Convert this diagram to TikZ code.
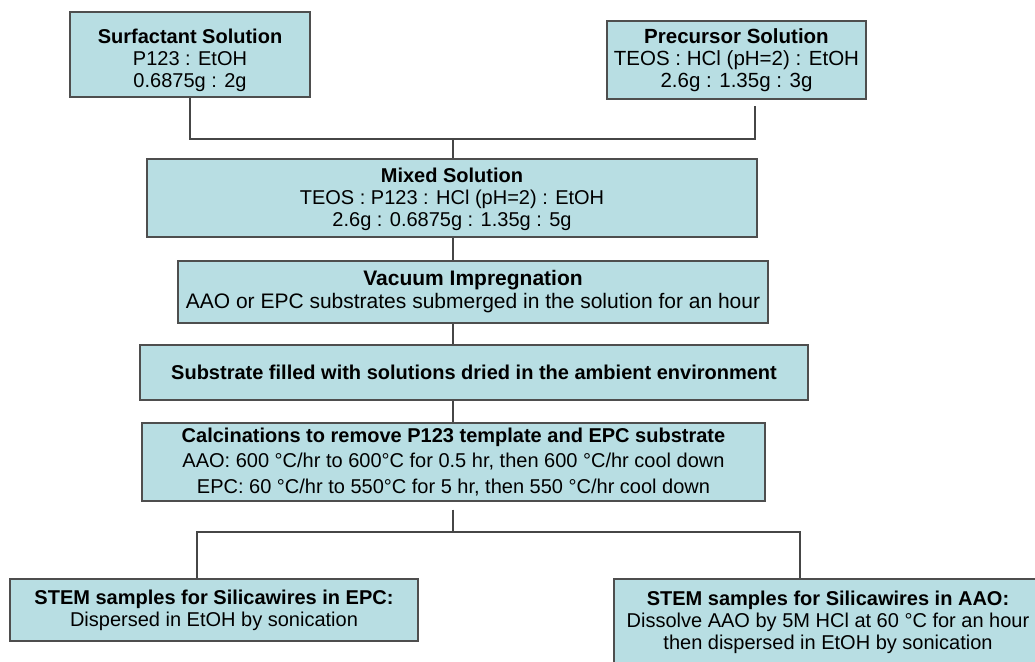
\documentclass[tikz,border=0pt]{standalone}
\usepackage{fontspec}
\setmainfont{Liberation Sans}
\usetikzlibrary{calc}
\definecolor{boxfill}{RGB}{184,222,227}
\definecolor{boxline}{RGB}{78,78,78}
\definecolor{wirecol}{RGB}{70,70,70}
\tikzset{
  stage/.style={draw=boxline, line width=1.3pt, fill=boxfill, inner sep=0pt,
    align=center, font=\fontsize{20}{22}\selectfont},
  wire/.style={draw=wirecol, line width=1.1pt},
}
\begin{document}
\begin{tikzpicture}[x=1pt,y=-1pt]
\useasboundingbox (0,0) rectangle (1035,661);
\fill[white] (0,0) rectangle (1035,661);
\clip (0,0) rectangle (1035,661);

% preparation of the two solutions
\node[stage, minimum width=240pt, minimum height=85pt] (surf) at (190,54.5)
  {\rule{0pt}{26.5pt}\textbf{Surfactant Solution}\\P123 : EtOH\\0.6875g : 2g};
\node[stage, minimum width=259pt, minimum height=78pt, font=\fontsize{20.5}{22}\selectfont] (prec) at (736.5,60)
  {\textbf{Precursor Solution}\\TEOS : HCl (pH=2) : EtOH\\2.6g : 1.35g : 3g};

% main process chain
\node[stage, minimum width=610pt, minimum height=78pt] (mix) at (452,198)
  {\rule{0pt}{17pt}\textbf{Mixed Solution}\\TEOS : P123 : HCl (pH=2) : EtOH\\2.6g : 0.6875g : 1.35g : 5g};
\node[stage, minimum width=590pt, minimum height=62pt, font=\fontsize{21}{23}\selectfont] (vac) at (473,292)
  {\textbf{Vacuum Impregnation}\\AAO or EPC substrates submerged in the solution for an hour};
\node[stage, minimum width=668pt, minimum height=55pt] (sub) at (474,372.5)
  {\textbf{Substrate filled with solutions dried in the ambient environment}};
\node[stage, minimum width=623pt, minimum height=78pt, font=\fontsize{20}{25.5}\selectfont] (calc) at (453.5,462)
  {\textbf{Calcinations to remove P123 template and EPC substrate}\\
   AAO: 600 °C/hr to 600°C for 0.5 hr, then 600 °C/hr cool down\\
   EPC: 60 °C/hr to 550°C for 5 hr, then 550 °C/hr cool down};

% sample preparation for STEM
\node[stage, minimum width=408pt, minimum height=62pt] (lstem) at (214,610)
  {\textbf{STEM samples for Silicawires in EPC:}\\Dispersed in EtOH by sonication};
\node[stage, minimum width=428pt, minimum height=87pt] (rstem) at (828,622.5)
  {\textbf{STEM samples for Silicawires in AAO:}\\Dissolve AAO by 5M HCl at 60 °C for an hour\\then dispersed in EtOH by sonication};

% connector guide positions
\coordinate (spine) at (453,0);
\coordinate (precx) at (755,0);
\coordinate (lx) at (197,0);
\coordinate (rx) at (800,0);
\coordinate (topbar) at (0,139);
\coordinate (botbar) at (0,532);

\draw[wire] (surf.south) -- (surf.south |- topbar) -- (precx |- topbar)
  -- ($(prec.south -| precx)+(0,6)$);
\draw[wire] (spine |- topbar) -- (mix.north -| spine);
\draw[wire] (mix.south -| spine) -- (vac.north -| spine);
\draw[wire] (vac.south -| spine) -- (sub.north -| spine);
\draw[wire] (sub.south -| spine) -- (calc.north -| spine);
\draw[wire] ($(calc.south -| spine)+(0,8)$) -- (spine |- botbar);
\draw[wire] (lstem.north -| lx) -- (lx |- botbar) -- (rx |- botbar) -- (rstem.north -| rx);
\end{tikzpicture}
\end{document}
